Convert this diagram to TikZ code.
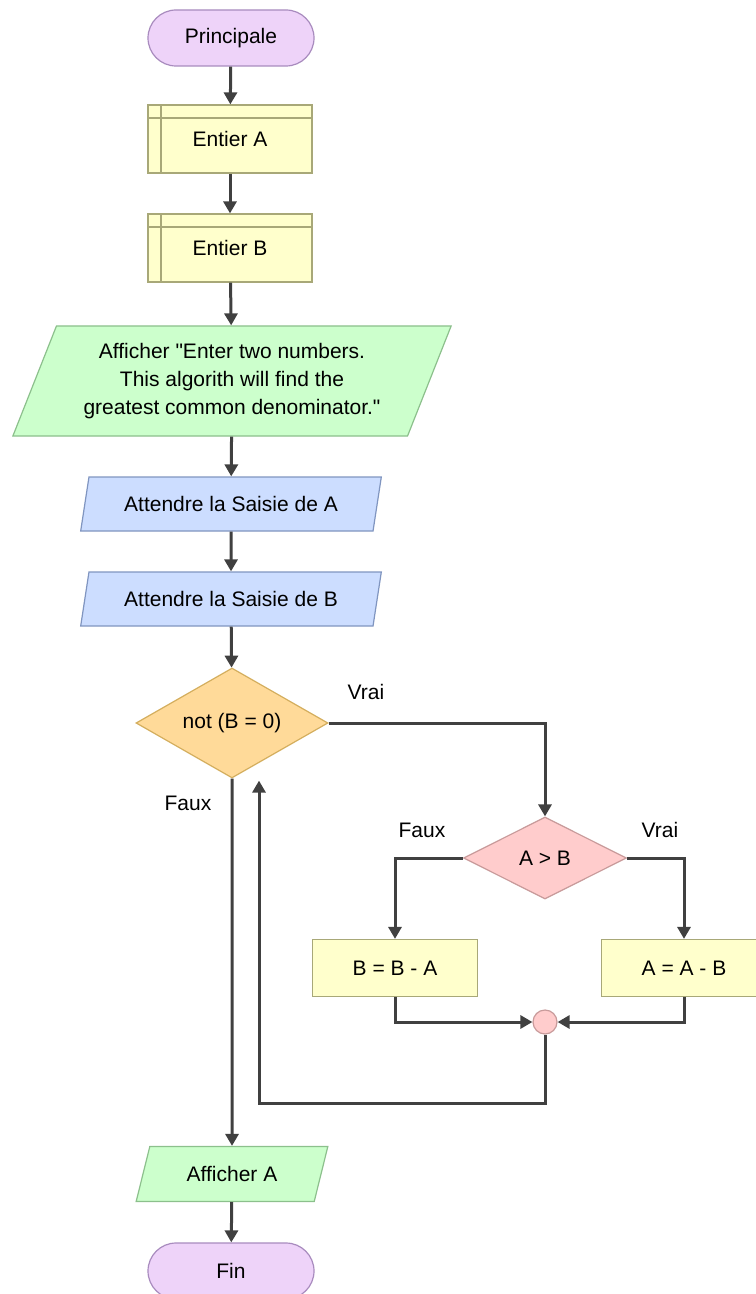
\documentclass[tikz,border=0pt]{standalone}
\usepackage{fontspec}
\setmainfont{Liberation Sans}
\usetikzlibrary{shapes.geometric,shapes.misc,arrows.meta}
\definecolor{termfill}{HTML}{EED3F9}
\definecolor{termline}{HTML}{A88BBE}
\definecolor{declfill}{HTML}{FFFFCC}
\definecolor{declline}{HTML}{A8A878}
\definecolor{outfill}{HTML}{CCFFCC}
\definecolor{outline}{HTML}{8CC08C}
\definecolor{infill}{HTML}{CCDDFF}
\definecolor{inline}{HTML}{8095C0}
\definecolor{testfill}{HTML}{FFDA99}
\definecolor{testline}{HTML}{D4AE5E}
\definecolor{pinkfill}{HTML}{FFCCCC}
\definecolor{pinkline}{HTML}{C89A9A}
\definecolor{flowc}{HTML}{404040}

\begin{document}
\begin{tikzpicture}[x=0.5pt,y=-0.5pt]
\tikzstyle{every node}+=[inner sep=0pt, line width=0.6pt, font=\fontsize{10.5}{14}\selectfont]
\tikzstyle{term}=[rounded rectangle, draw=termline, fill=termfill, minimum width=83pt, minimum height=28pt]
\tikzstyle{decl}=[rectangle, draw=declline, fill=declfill, minimum width=82pt, minimum height=34pt,
  path picture={\draw[declline] ([xshift=6.5pt]path picture bounding box.north west) -- ([xshift=6.5pt]path picture bounding box.south west);
    \draw[declline] ([yshift=-6.5pt]path picture bounding box.north west) -- ([yshift=-6.5pt]path picture bounding box.north east);}]
\tikzstyle{proc}=[rectangle, draw=declline, fill=declfill, minimum width=82.5pt, minimum height=28.5pt]
\tikzstyle{outp}=[trapezium, trapezium left angle=64, trapezium right angle=116, trapezium stretches=true, draw=outline, fill=outfill]
\tikzstyle{inp}=[trapezium, trapezium left angle=68, trapezium right angle=112, trapezium stretches=true, draw=inline, fill=infill, minimum width=150.5pt, minimum height=27pt]
\tikzstyle{test}=[diamond, draw=testline, fill=testfill, aspect=1.75, minimum width=96pt, minimum height=55pt]
\tikzstyle{flow}=[draw=flowc, line width=1.5pt, -{Triangle[width=6.5pt,length=6pt]}]
\useasboundingbox (0,0) rectangle (755,1294);

\node[term] (prin) at (231,38) {Principale};
\node[decl] (entA) at (230,139) {Entier A};
\node[decl] (entB) at (230,248) {Entier B};
\node[outp, minimum width=219.5pt, minimum height=55pt, align=center] (msg) at (232,381)
  {Afficher \textquotedbl Enter two numbers.\\This algorith will find the\\greatest common denominator.\textquotedbl};
\node[inp] (inA) at (231,504) {Attendre la Saisie de A};
\node[inp] (inB) at (231,599) {Attendre la Saisie de B};
\node[test] (loop) at (232,723) {not (B = 0)};
\node[test, fill=pinkfill, draw=pinkline, aspect=2, minimum width=81.5pt, minimum height=41pt] (cmp) at (545,858) {A > B};
\node[proc] (subB) at (395,968) {B = B - A};
\node[proc] (subA) at (684,968) {A = A - B};
\node[circle, draw=pinkline, fill=pinkfill, minimum size=12pt] (join) at (545,1022) {};
\node[outp, minimum width=96pt, minimum height=27.5pt] (outA) at (232,1174) {Afficher A};
\node[term] (fin) at (231,1271) {Fin};

\node (vrai1) at (366,692) {Vrai};
\node (faux1) at (188,803) {Faux};
\node (faux2) at (422,830) {Faux};
\node (vrai2) at (660,830) {Vrai};

\coordinate (back) at ([xshift=13.5pt,yshift=-1pt]loop.south);

\draw[flow] (prin) -- (entA);
\draw[flow] (entA) -- (entB);
\draw[flow] (entB) -- (msg);
\draw[flow] (msg) -- (inA);
\draw[flow] (inA) -- (inB);
\draw[flow] (inB) -- (loop);
\draw[flow] (loop.east) -| (cmp.north);
\draw[flow] (cmp.west) -| (subB.north);
\draw[flow] (cmp.east) -| (subA.north);
\draw[flow] (subB.south) |- (join.west);
\draw[flow] (subA.south) |- (join.east);
\draw[flow] (join.south) -- ++(0,69) -| (back);
\draw[flow] (loop.south) -- (outA.north);
\draw[flow] (outA) -- (fin);
\end{tikzpicture}
\end{document}
